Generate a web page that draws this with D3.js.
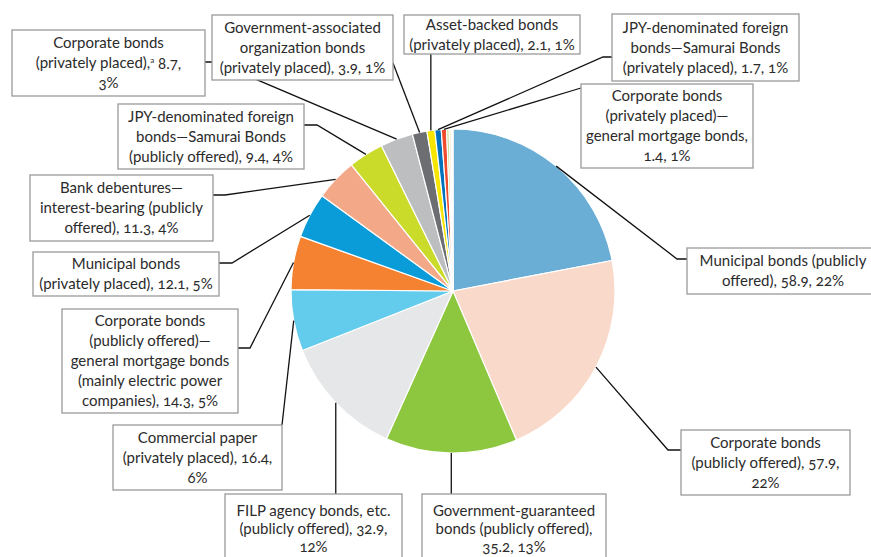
<!DOCTYPE html>
<html><head><meta charset="utf-8">
<script src="https://cdn.jsdelivr.net/npm/d3@7"></script>
<style>
html,body{margin:0;padding:0;background:#fff;}
svg{display:block;font-family:Lato,"Open Sans",sans-serif;}
text{font-variant-numeric:oldstyle-nums;font-feature-settings:"onum" 1;}
</style></head><body>
<svg id="chart" width="871" height="557"></svg>
<script>
// ---------------- DATA ----------------
const categories = [
  "Municipal bonds (publicly offered)",
  "Corporate bonds (publicly offered)",
  "Government-guaranteed bonds (publicly offered)",
  "FILP agency bonds, etc. (publicly offered)",
  "Commercial paper (privately placed)",
  "Corporate bonds (publicly offered)—general mortgage bonds",
  "Municipal bonds (privately placed)",
  "Bank debentures—interest-bearing (publicly offered)",
  "JPY-denominated foreign bonds—Samurai Bonds (publicly offered)",
  "Corporate bonds (privately placed)",
  "Government-associated organization bonds (privately placed)",
  "Asset-backed bonds (privately placed)",
  "JPY-denominated foreign bonds—Samurai Bonds (privately placed)",
  "Corporate bonds (privately placed)—general mortgage bonds",
  "Other 1", "Other 2", "Other 3", "Other 4"
];
const values = [58.9, 57.9, 35.2, 32.9, 16.4, 14.3, 12.1, 11.3, 9.4, 8.7, 3.9, 2.1, 1.7, 1.4, 0.7, 0.5, 0.3, 0.2];
const sliceColors = ["#6aadd5","#f9d9c9","#8dc63f","#e6e7e8","#63cbec","#f58231","#0a9bd9","#f3a887",
  "#cbdb2a","#bcbec0","#6d6e71","#f5e500","#0072bc","#ee4c2c","#c8df9a","#e6d59c","#f8a51c","#8b6b3d"];
const labelLines = [
  ["Municipal bonds (publicly", "offered), 58.9, 22%"],
  ["Corporate bonds", "(publicly offered), 57.9,", "22%"],
  ["Government-guaranteed", "bonds (publicly offered),", "35.2, 13%"],
  ["FILP  agency bonds, etc.", "(publicly offered), 32.9,", "12%"],
  ["Commercial paper", "(privately placed), 16.4,", "6%"],
  ["Corporate bonds", "(publicly offered)—", "general mortgage bonds", "(mainly electric power", "companies), 14.3, 5%"],
  ["Municipal bonds", "(privately placed), 12.1, 5%"],
  ["Bank debentures—", "interest-bearing (publicly", "offered), 11.3, 4%"],
  ["JPY-denominated foreign", "bonds—Samurai Bonds", "(publicly offered), 9.4, 4%"],
  ["Corporate bonds", "(privately placed),^a 8.7,", "3%"],
  ["Government-associated", "organization bonds", "(privately placed), 3.9, 1%"],
  ["Asset-backed bonds", "(privately placed), 2.1, 1%"],
  ["JPY-denominated foreign", "bonds—Samurai Bonds", "(privately placed), 1.7, 1%"],
  ["Corporate bonds", "(privately placed)—", "general mortgage bonds,", "1.4, 1%"]
];

// ---------------- LAYOUT ----------------
const W = 871, H = 557;
const cx = 453, cy = 291, R = 162;
const LH = 20;
const labelLayout = [
  {box:[687,248,192,46], anchor:[687,259], elbow:[677,259]},
  {box:[681,430,169,65], anchor:[681,450], elbow:[668,450]},
  {box:[422,494,184,90], vAnchor:494, padTop:8, lh:18},
  {box:[225,494,177,90], vAnchor:494, padTop:8, lh:18},
  {box:[113,425,169,65], anchor:[282,425]},
  {box:[62,309,176,104], anchor:[238,348], elbow:[250,348]},
  {box:[33,252,186,44], anchor:[219,263], elbow:[232,263]},
  {box:[30,175,183,66], anchor:[213,195], elbow:[225,195]},
  {box:[118,104,186,65], anchor:[304,125], elbow:[317,125]},
  {box:[12,30,193,66], anchor:[205,62], elbow:[215,62]},
  {box:[212,15,181,65], anchor:[393,63]},
  {box:[404,15,176,39], vAnchor:54},
  {box:[612,14,187,67], anchor:[612,57], elbow:[603,57]},
  {box:[581,84,172,84], anchor:[581,88]}
];

const svg = d3.select("#chart");
const pie = d3.pie().sort(null).value(d => d.v).startAngle(0).endAngle(2*Math.PI);
const data = categories.map((c,i) => ({c, v: values[i], color: sliceColors[i], i}));
const arcs = pie(data);
const arc = d3.arc().innerRadius(0).outerRadius(R);

const g = svg.append("g").attr("transform", `translate(${cx},${cy})`);
g.selectAll("path.slice").data(arcs).join("path")
  .attr("class","slice")
  .attr("d", arc)
  .attr("fill", d => d.data.color)
  .attr("stroke", "#fff")
  .attr("stroke-width", 1.2)
  .attr("stroke-linejoin","round");

// leader lines
const lineG = svg.append("g");
arcs.forEach((a, i) => {
  const L = labelLayout[i];
  if (!L) return;
  const mid = (a.startAngle + a.endAngle) / 2;
  const ex = cx + Math.sin(mid) * R, ey = cy - Math.cos(mid) * R;
  let pts = [[ex, ey]];
  if (L.vAnchor !== undefined) {
    pts.push([ex, L.vAnchor]);
  } else {
    if (L.elbow) pts.push(L.elbow);
    pts.push(L.anchor);
  }
  lineG.append("path")
    .attr("d", d3.line()(pts))
    .attr("fill","none")
    .attr("stroke","#111")
    .attr("stroke-width",1.3);
});

// label boxes
const boxG = svg.append("g");
labelLayout.forEach((L, i) => {
  const [x,y,w,h] = L.box;
  const lines = labelLines[i];
  const lh = L.lh || LH;
  boxG.append("rect")
    .attr("x", x).attr("y", y).attr("width", w).attr("height", h)
    .attr("fill","#fff").attr("stroke","#9a9a9a").attr("stroke-width",1.3);
  const pad = L.padTop !== undefined ? L.padTop : (h - lines.length*lh)/2;
  lines.forEach((ln, j) => {
    const t = boxG.append("text")
      .attr("x", x + w/2)
      .attr("y", y + pad + (j+0.5)*lh)
      .attr("dy","0.35em")
      .attr("text-anchor","middle")
      .attr("font-size", 15)
      .attr("fill","#2b2b2b");
    if (ln.includes("^a")) {
      const parts = ln.split("^a");
      t.append("tspan").text(parts[0]);
      t.append("tspan").text("a").attr("font-size", 8).attr("dy","-0.7em");
      t.append("tspan").text(parts[1]).attr("dy","0.45em");
    } else {
      t.text(ln);
    }
  });
});
</script>
</body></html>
